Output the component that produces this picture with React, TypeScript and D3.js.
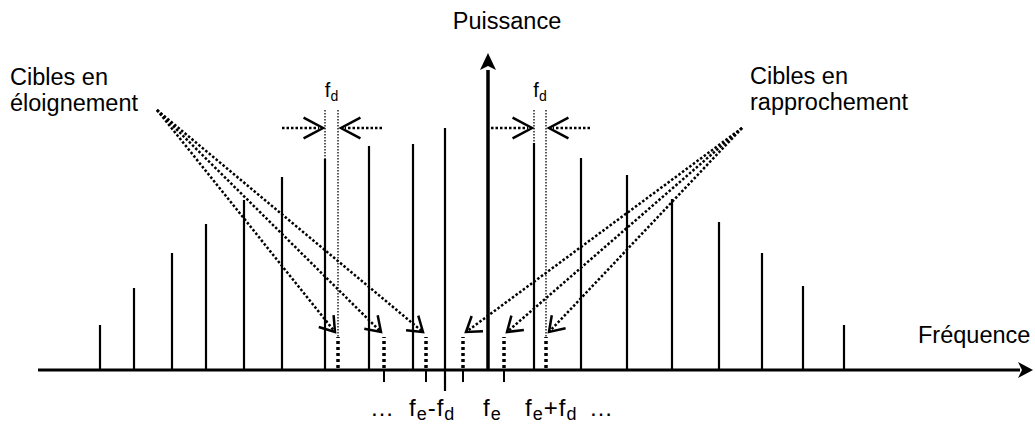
import React from 'react';
import * as d3 from 'd3';

// spectral lines: frequency offset from f_e and power (arbitrary units)
const lineFreqs = [-388, -354, -316, -282, -244, -206, -163, -119, -75, -43, 46, 93, 139, 184, 231, 274, 315, 356];
const linePowers = [45, 82, 117, 146, 170, 193, 211, 224, 226, 242, 227, 212, 195, 171, 148, 117, 84, 45];

// the line that goes below the axis
const longLineFreq = -43;
const longLineDepth = -21;

// echoes (thick dotted markers)
const recedingEchoes = [-150, -104, -62];
const approachingEchoes = [-25, 16, 58];
const echoPower = 33;

// small ticks under the axis
const tickFreqs = [-104, -62, -25, 16];

// f_d pairs [line, echo]
const fdPairs = [[-163, -150], [46, 58]];
const fdTopPower = 260;
const fdArrowPower = 242;

// where the dotted annotation arrows start
const recedingSource = [-331, 260];
const approachingSource = [254, 242];

const width = 1035;
const height = 434;
const font = '"Liberation Sans", Arial, sans-serif';

const x = d3.scaleLinear().domain([-450, 550]).range([38, 1038]);
const y = d3.scaleLinear().domain([0, 317]).range([370, 53]);

function chevron(tx: number, ty: number, angle: number, len: number, half: number) {
  const back = angle + Math.PI;
  const a1 = back - half;
  const a2 = back + half;
  const p = d3.path();
  p.moveTo(tx + len * Math.cos(a1), ty + len * Math.sin(a1));
  p.lineTo(tx, ty);
  p.lineTo(tx + len * Math.cos(a2), ty + len * Math.sin(a2));
  return p.toString();
}

function DiagArrow({ sx, sy, tx, ty }: { sx: number; sy: number; tx: number; ty: number }) {
  const ang = Math.atan2(ty - sy, tx - sx);
  return (
    <g>
      <line x1={sx} y1={sy} x2={tx} y2={ty} stroke="#000" strokeWidth={2.5} strokeDasharray="2.5 2" />
      <path d={chevron(tx, ty, ang, 17, (34 * Math.PI) / 180)} fill="none" stroke="#000" strokeWidth={2.5} />
    </g>
  );
}

function HArrow({ from, to, py }: { from: number; to: number; py: number }) {
  const ang = to > from ? 0 : Math.PI;
  const dir = to > from ? 1 : -1;
  return (
    <g>
      <line x1={from} y1={py} x2={to - dir * 4} y2={py} stroke="#000" strokeWidth={2.5} strokeDasharray="2.5 2" />
      <path d={chevron(to, py, ang, 22, (28 * Math.PI) / 180)} fill="none" stroke="#000" strokeWidth={2.5} />
    </g>
  );
}

export default function App() {
  const y0 = y(0);
  const axisX = x(0);
  const echoTop = y(echoPower);
  const [lsx, lsy] = [x(recedingSource[0]), y(recedingSource[1])];
  const [rsx, rsy] = [x(approachingSource[0]), y(approachingSource[1])];

  return (
    <svg width={width} height={height} style={{ position: 'absolute', left: 0, top: 0, background: '#fff' }}
      fontFamily={font}>
      {/* spectral lines */}
      {lineFreqs.map((f, i) => (
        <line key={i} x1={x(f)} x2={x(f)} y1={f === longLineFreq ? y(longLineDepth) : y0} y2={y(linePowers[i])}
          stroke="#000" strokeWidth={2.2} />
      ))}

      {/* ticks */}
      {tickFreqs.map((f, i) => (
        <line key={i} x1={x(f)} x2={x(f)} y1={y0} y2={y0 + 12} stroke="#000" strokeWidth={2} />
      ))}

      {/* echoes */}
      {[...recedingEchoes, ...approachingEchoes].map((f, i) => (
        <line key={i} x1={x(f)} x2={x(f)} y1={y0 - 2} y2={echoTop} stroke="#000" strokeWidth={3.5} strokeDasharray="3 3" />
      ))}

      {/* f_d markers */}
      {fdPairs.map(([lf, ef], i) => {
        const li = lineFreqs.indexOf(lf);
        const py = y(fdArrowPower);
        return (
          <g key={i}>
            <line x1={x(lf)} x2={x(lf)} y1={y(fdTopPower)} y2={y(linePowers[li])} stroke="#000" strokeWidth={1.3} strokeDasharray="1.5 1.5" />
            <line x1={x(ef)} x2={x(ef)} y1={y(fdTopPower)} y2={echoTop} stroke="#000" strokeWidth={1.3} strokeDasharray="1.5 1.5" />
            <HArrow from={x(lf) - 43} to={x(lf) - 2} py={py} />
            <HArrow from={x(ef) + 44} to={x(ef) + 3} py={py} />
            <text x={(x(lf) + x(ef)) / 2} y={y(fdTopPower) - 13} textAnchor="middle" fontSize={20}>
              f<tspan fontSize={14} dy={4}>d</tspan>
            </text>
          </g>
        );
      })}

      {/* dotted arrows */}
      {recedingEchoes.map((f, i) => (
        <DiagArrow key={'r' + i} sx={lsx} sy={lsy} tx={x(f) - 3} ty={echoTop - 5} />
      ))}
      {approachingEchoes.map((f, i) => (
        <DiagArrow key={'a' + i} sx={rsx} sy={rsy} tx={x(f) + 3} ty={echoTop - 5} />
      ))}

      {/* axes */}
      <line x1={38} x2={x(532)} y1={y0} y2={y0} stroke="#000" strokeWidth={3} />
      <path d={`M${x(545)},${y0} L${x(530)},${y0 - 8} L${x(534)},${y0} L${x(530)},${y0 + 8} Z`} fill="#000" />
      <line x1={axisX} x2={axisX} y1={y0} y2={y(300)} stroke="#000" strokeWidth={3.5} />
      <path d={`M${axisX},${y(317)} L${axisX - 8},${y(300)} L${axisX},${y(304)} L${axisX + 8},${y(300)} Z`} fill="#000" />

      {/* labels */}
      <text x={axisX + 19} y={29} textAnchor="middle" fontSize={23.5}>Puissance</text>
      <text x={918} y={343} fontSize={23.5}>Fréquence</text>
      <text x={10} y={85} fontSize={23.5}>Cibles en</text>
      <text x={10} y={111} fontSize={23.5}>éloignement</text>
      <text x={750} y={84} fontSize={23.5}>Cibles en</text>
      <text x={750} y={110} fontSize={23.5}>rapprochement</text>

      <g fontSize={24} letterSpacing={1}>
        <text x={370} y={416} letterSpacing={0}>…</text>
        <text x={409} y={416}>f<tspan fontSize={18} dy={4}>e</tspan><tspan dy={-4}>-f</tspan><tspan fontSize={18} dy={4}>d</tspan></text>
        <text x={483} y={416}>f<tspan fontSize={18} dy={4}>e</tspan></text>
        <text x={525} y={416}>f<tspan fontSize={18} dy={4}>e</tspan><tspan dy={-4}>+f</tspan><tspan fontSize={18} dy={4}>d</tspan></text>
        <text x={589} y={416} letterSpacing={0}>…</text>
      </g>
    </svg>
  );
}
